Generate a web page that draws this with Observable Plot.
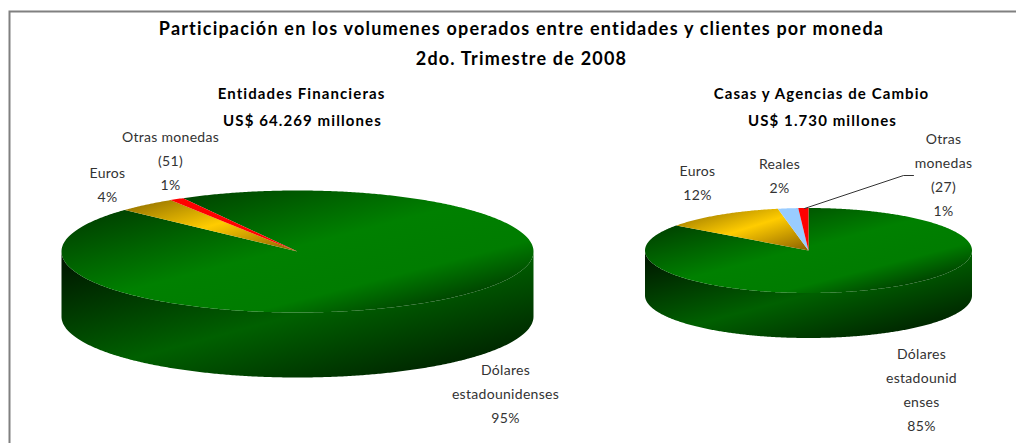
<!DOCTYPE html>
<html><head><meta charset="utf-8">
<style>html,body{margin:0;padding:0;background:#fff}svg{display:block}</style>
<script src="https://cdn.jsdelivr.net/npm/d3@7"></script>
<script src="https://cdn.jsdelivr.net/npm/@observablehq/plot@0.6"></script>
</head><body><script>
const categoriesLeft = ["Dólares estadounidenses", "Euros", "Otras monedas"];
const sharesLeft = [95, 4, 1];
const coloursLeft = ["green", "gold", "#ff0000"];
const categoriesRight = ["Dólares estadounidenses", "Euros", "Reales", "Otras monedas"];
const sharesRight = [85, 12, 2, 1];
const coloursRight = ["green", "gold", "#99ccff", "#ff0000"];
const titleLines = ["Participación en los volumenes operados entre entidades y clientes por moneda", "2do. Trimestre de 2008"];
const leftHeader = ["Entidades Financieras", "US$ 64.269 millones"];
const rightHeader = ["Casas y Agencias de Cambio", "US$ 1.730 millones"];
const leftLabels = ["Dólares\nestadounidenses\n95%", "Euros\n4%", "Otras monedas\n(51)\n1%"];
const rightLabels = ["Dólares\nestadounid\nenses\n85%", "Euros\n12%", "Reales\n2%", "Otras\nmonedas\n(27)\n1%"];

const pieLeft = {cx: 297, cy: 251, rx: 236, ry: 61, depth: 65, start: -29};
const pieRight = {cx: 808, cy: 250, rx: 163.5, ry: 42.5, depth: 45, start: 0};

const rad = d => d * Math.PI / 180;
const onRim = (p, deg, dy = 0) => ({x: p.cx + p.rx * Math.sin(rad(deg)), y: p.cy - p.ry * Math.cos(rad(deg)) + dy});
function arc(p, a0, a1, dy = 0) {
  const n = Math.max(2, Math.ceil(Math.abs(a1 - a0) * 2));
  return d3.range(n + 1).map(i => onRim(p, a0 + (a1 - a0) * i / n, dy));
}
function slices(p, shares) {
  const total = d3.sum(shares);
  let a = p.start;
  return shares.map(v => {
    const a0 = a; a += v / total * 360;
    return [{x: p.cx, y: p.cy}, ...arc(p, a0, a)];
  });
}
const sidePoly = p => [...arc(p, 90, 270), ...arc(p, 270, 90, p.depth)];
const fillOf = c => c === "green" ? "url(#gTop)" : c === "gold" ? "url(#gGold)" : c;

function stops(id, list) {
  const g = d3.create("svg:linearGradient").attr("id", id)
    .attr("x1", 0).attr("y1", 0).attr("x2", 1).attr("y2", 1);
  list.forEach(([o, c]) => g.append("stop").attr("offset", o).attr("stop-color", c));
  return g.node();
}
const defs = () => {
  const d = d3.create("svg:defs");
  d.append(() => stops("gTop", [[0.1, "#003c00"], [0.32, "#006400"], [0.48, "#008000"], [0.7, "#007c00"], [0.92, "#003000"]]));
  d.append(() => stops("gSide", [[0.02, "#001500"], [0.5, "#006000"], [0.98, "#001500"]]));
  d.append(() => stops("gGold", [[0, "#8a6a00"], [0.5, "#ffcc00"], [1, "#8a6000"]]));
  return d.node();
};

function pieMarks(p, shares, colours) {
  return [
    Plot.line(sidePoly(p), {x: "x", y: "y", fill: "url(#gSide)", stroke: "none"}),
    ...slices(p, shares).map((poly, i) =>
      Plot.line(poly, {x: "x", y: "y", fill: fillOf(colours[i]), stroke: "none"}))
  ];
}
const txt = (rows, opts) => Plot.text(rows, {x: "x", y: "y", text: "t", lineHeight: 1.7, fill: "#333", fontFamily: "Lato", fontSize: 14, ...opts});
const titleStyle = {fontWeight: "bold", fill: "#000", lineHeight: 1};

const chart = Plot.plot({
  width: 1016, height: 443, margin: 0,
  x: {domain: [0, 1016], range: [0, 1016], axis: null},
  y: {domain: [0, 443], range: [0, 443], axis: null},
  style: {background: "#fff"},
  marks: [
    defs,
    Plot.frame({stroke: "#808080", strokeWidth: 2, insetLeft: 9, insetTop: 11, insetRight: -6, insetBottom: -6}),
    ...pieMarks(pieLeft, sharesLeft, coloursLeft),
    ...pieMarks(pieRight, sharesRight, coloursRight),
    Plot.line([{x: 804, y: 208}, {x: 903, y: 175}, {x: 913, y: 175}], {x: "x", y: "y", stroke: "#333", strokeWidth: 1}),
    txt([{x: 521, y: 29, t: titleLines[0]}, {x: 521, y: 59, t: titleLines[1]}], {...titleStyle, fontSize: 18}),
    txt([{x: 301, y: 94, t: leftHeader[0]}, {x: 302, y: 121, t: leftHeader[1]}, {x: 821, y: 94, t: rightHeader[0]}, {x: 822, y: 121, t: rightHeader[1]}], {...titleStyle, fontSize: 15}),
    txt([
      {x: 505, y: 391, t: leftLabels[0]},
      {x: 107, y: 182, t: leftLabels[1]},
      {x: 170, y: 158, t: leftLabels[2]},
      {x: 921, y: 387, t: rightLabels[0]},
      {x: 697, y: 180, t: rightLabels[1]},
      {x: 779, y: 173, t: rightLabels[2]},
      {x: 943, y: 172, t: rightLabels[3]}
    ], {})
  ]
});
document.body.appendChild(chart);
chart.querySelectorAll('g[aria-label="text"]').forEach(g => {
  const size = parseFloat(g.getAttribute("font-size"));
  g.setAttribute("letter-spacing", size === 18 ? 1.2 : size === 15 ? 1.1 : 0.3);
});
</script></body></html>
